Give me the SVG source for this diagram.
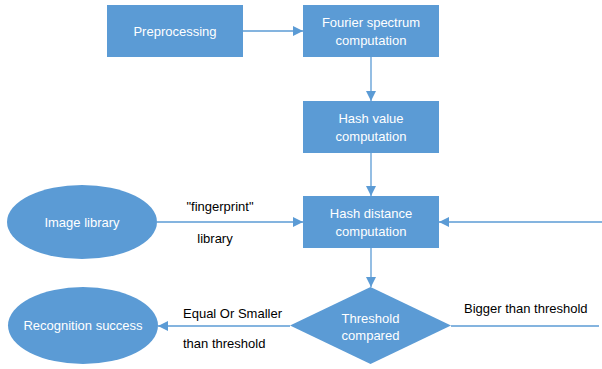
<svg xmlns="http://www.w3.org/2000/svg" width="602" height="369" viewBox="0 0 602 369">
<defs>
<style>
.n{fill:#5b9bd5;}
.t{font-family:"Liberation Sans",Arial,sans-serif;font-size:13px;fill:#ffffff;text-anchor:middle;}
.l{font-family:"Liberation Sans",Arial,sans-serif;font-size:13px;fill:#000000;}
.c{stroke:#5b9bd5;stroke-width:1.3;fill:none;}
</style>
<marker id="ah" viewBox="0 0 10 10" refX="10" refY="5" markerWidth="10" markerHeight="10" markerUnits="userSpaceOnUse" orient="auto">
<path d="M0,0 L10,5 L0,10 Z" fill="#5b9bd5"/>
</marker>
</defs>
<rect width="602" height="369" fill="#ffffff"/>
<g id="connectors">
<line class="c" x1="243" y1="31" x2="303" y2="31" marker-end="url(#ah)"/>
<line class="c" x1="371" y1="57" x2="371" y2="101" marker-end="url(#ah)"/>
<line class="c" x1="371" y1="153" x2="371" y2="196" marker-end="url(#ah)"/>
<line class="c" x1="157" y1="222" x2="303" y2="222" marker-end="url(#ah)"/>
<line class="c" x1="602" y1="222" x2="439" y2="222" marker-end="url(#ah)"/>
<line class="c" x1="371" y1="248" x2="371" y2="287" marker-end="url(#ah)"/>
<line class="c" x1="290" y1="326" x2="158" y2="326" marker-end="url(#ah)"/>
<line class="c" x1="451" y1="326" x2="599" y2="326"/>
<text class="l" x="220" y="211" text-anchor="middle">"fingerprint"</text>
<text class="l" x="215" y="243" text-anchor="middle">library</text>
<text class="l" x="183" y="318">Equal Or Smaller</text>
<text class="l" x="183" y="348">than threshold</text>
<text class="l" x="464" y="313">Bigger than threshold</text>
</g>
<g id="preprocessing">
<rect class="n" x="107" y="5" width="136" height="52"/>
<text class="t" x="175" y="36">Preprocessing</text>
</g>
<g id="fourier">
<rect class="n" x="303" y="5" width="136" height="52"/>
<text class="t" x="371" y="27">Fourier spectrum</text>
<text class="t" x="371" y="45">computation</text>
</g>
<g id="hashvalue">
<rect class="n" x="303" y="101" width="136" height="52"/>
<text class="t" x="371" y="123">Hash value</text>
<text class="t" x="371" y="141">computation</text>
</g>
<g id="hashdistance">
<rect class="n" x="303" y="196" width="136" height="52"/>
<text class="t" x="371" y="218">Hash distance</text>
<text class="t" x="371" y="236">computation</text>
</g>
<g id="imagelibrary">
<ellipse class="n" cx="82" cy="222" rx="75" ry="37"/>
<text class="t" x="82" y="227">Image library</text>
</g>
<g id="threshold">
<polygon class="n" points="290,325.5 370.5,287 451,325.5 370.5,364"/>
<text class="t" x="370.5" y="323">Threshold</text>
<text class="t" x="370.5" y="340">compared</text>
</g>
<g id="recognition">
<ellipse class="n" cx="83" cy="325.5" rx="75" ry="38.5"/>
<text class="t" x="83" y="330">Recognition success</text>
</g>
</svg>
